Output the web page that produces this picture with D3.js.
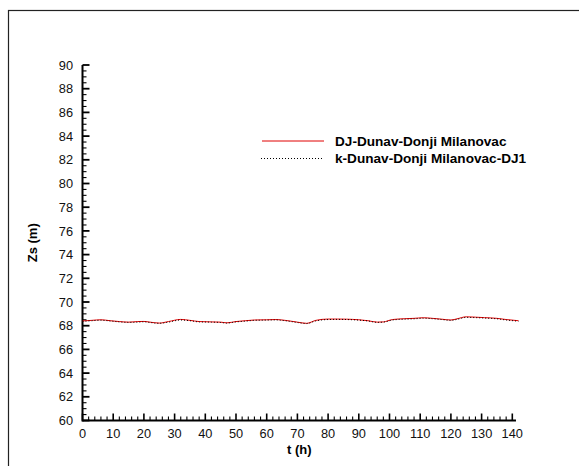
<!DOCTYPE html>
<html><head><meta charset="utf-8">
<script src="https://cdn.jsdelivr.net/npm/d3@7"></script>
<style>body{margin:0;background:#fff}svg{display:block;font-family:"Liberation Sans",Arial,sans-serif}</style>
</head><body>
<script>
const tHours = [0,3,6,9,12,15,18,20,22,25,28,32,35,38,42,45,47,50,53,56,60,63,66,70,73,76,80,83,86,90,93,96,98,101,105,108,111,114,117,120,122,125,128,131,135,138,142];
const seriesDJ = [68.4,68.45,68.5,68.42,68.35,68.3,68.35,68.36,68.3,68.22,68.35,68.53,68.45,68.35,68.32,68.3,68.24,68.35,68.42,68.48,68.5,68.52,68.45,68.3,68.2,68.45,68.56,68.56,68.55,68.5,68.42,68.3,68.32,68.52,68.59,68.62,68.67,68.62,68.55,68.48,68.58,68.75,68.72,68.68,68.62,68.52,68.42];
const seriesK = [68.36,68.42,68.46,68.4,68.32,68.28,68.3,68.33,68.27,68.2,68.3,68.48,68.42,68.32,68.3,68.27,68.22,68.32,68.38,68.45,68.47,68.49,68.42,68.27,68.18,68.4,68.52,68.53,68.52,68.47,68.4,68.28,68.3,68.48,68.55,68.58,68.63,68.59,68.52,68.45,68.53,68.7,68.68,68.64,68.58,68.48,68.38];
const legendNames = ["DJ-Dunav-Donji Milanovac","k-Dunav-Donji Milanovac-DJ1"];
const xTicks = d3.range(0,141,10);
const yTicks = d3.range(60,91,2);
const xTitle = "t (h)", yTitle = "Zs (m)";

const W=579,H=466;
const svg=d3.select("body").append("svg").attr("width",W).attr("height",H);
svg.append("rect").attr("x",8.5).attr("y",10.5).attr("width",W).attr("height",H).attr("fill","none").attr("stroke","#222").attr("stroke-width",1.2);

const x=d3.scaleLinear().domain([0,140]).range([82.5,512.3]);
const y=d3.scaleLinear().domain([60,90]).range([420.5,65]);
const g=svg.append("g");

g.append("line").attr("x1",x(0)).attr("x2",x(141.2)).attr("y1",y(60)).attr("y2",y(60)).attr("stroke","#000").attr("stroke-width",2);
g.append("line").attr("x1",x(0)).attr("x2",x(0)).attr("y1",y(60)+1).attr("y2",y(90)).attr("stroke","#000").attr("stroke-width",2);
d3.range(0,141,2).forEach(v=>{
  const major=v%10===0;
  g.append("line").attr("x1",x(v)).attr("x2",x(v)).attr("y1",y(60)).attr("y2",y(60)-(major?7:4)).attr("stroke","#000").attr("stroke-width",major?1.6:1.1);
});
d3.range(60,90.01,0.5).forEach(v=>{
  const major=Math.abs(v%2)<1e-6;
  g.append("line").attr("x1",x(0)).attr("x2",x(0)+(major?7:4)).attr("y1",y(v)).attr("y2",y(v)).attr("stroke","#000").attr("stroke-width",major?1.8:1.1);
});
xTicks.forEach(v=>g.append("text").attr("x",x(v)).attr("y",437.5).attr("text-anchor","middle").attr("font-size",12.8).attr("fill","#111").text(v));
yTicks.forEach(v=>g.append("text").attr("x",73).attr("y",y(v)+4.6).attr("text-anchor","end").attr("font-size",12.8).attr("fill","#111").text(v));

svg.append("text").attr("x",(x(0)+x(141.2))/2).attr("y",454).attr("text-anchor","middle").attr("font-size",13).attr("font-weight","bold").text(xTitle);
svg.append("text").attr("transform",`translate(36.5,${(y(60)+y(90))/2}) rotate(-90)`).attr("text-anchor","middle").attr("font-size",13).attr("font-weight","bold").text(yTitle);

const line=d3.line().x((d,i)=>x(tHours[i])).y(d=>y(d)).curve(d3.curveMonotoneX);
svg.append("path").datum(seriesDJ).attr("d",line).attr("fill","none").attr("stroke","#e00000").attr("stroke-width",1);
svg.append("path").datum(seriesK).attr("d",line).attr("fill","none").attr("stroke","#000").attr("stroke-width",1).attr("stroke-dasharray","1,2");

const lg=svg.append("g");
lg.append("line").attr("x1",262).attr("x2",324).attr("y1",141).attr("y2",141).attr("stroke","#e00000").attr("stroke-width",1);
lg.append("line").attr("x1",261).attr("x2",324).attr("y1",158.5).attr("y2",158.5).attr("stroke","#000").attr("stroke-width",1).attr("stroke-dasharray","1,2");
legendNames.forEach((n,i)=>lg.append("text").attr("x",335).attr("y",145.8+i*16.7).attr("font-size",13.6).attr("font-weight","bold").text(n));
</script>
</body></html>
